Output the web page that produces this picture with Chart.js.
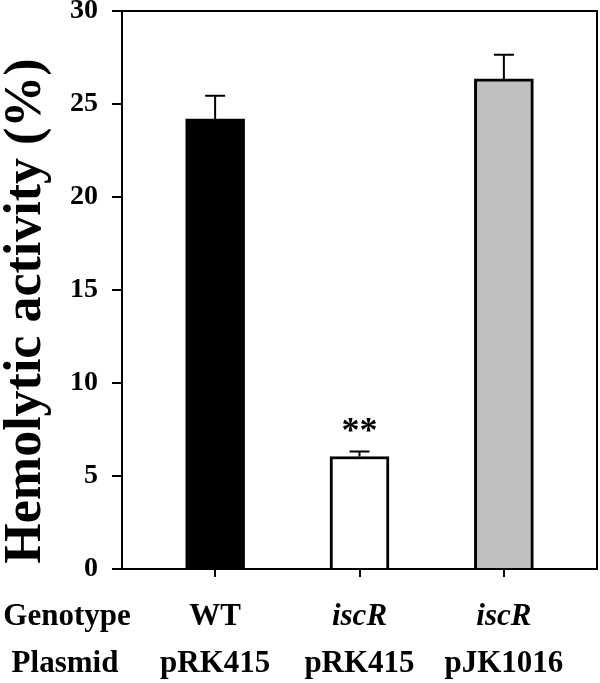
<!DOCTYPE html>
<html>
<head>
<meta charset="utf-8">
<script src="https://cdn.jsdelivr.net/npm/chart.js@4"></script>
<style>
    body { margin: 0; background: #fff; }
</style>
</head>
<body>
<canvas id="hemoChart" width="600" height="683"></canvas>
<script>
const groups = [1, 2, 3];
const genotypes = ['WT', 'iscR', 'iscR'];
const plasmids = ['pRK415', 'pRK415', 'pJK1016'];
const activity = [24.2, 6.05, 26.35];
const errors = [1.25, 0.27, 1.3];
const marks = ['', '**', ''];
const yTicks = [0, 5, 10, 15, 20, 25, 30];
const rowNames = ['Genotype', 'Plasmid'];

const serif = 'Liberation Serif, Times New Roman, serif';

// frame, error bars, ** and the two label rows under the axis
const extras = {
    id: 'extras',
    afterDatasetsDraw(chart) {
        const ctx = chart.ctx;
        const xs = chart.scales.x;
        const ys = chart.scales.y;
        const a = chart.chartArea;
        ctx.save();
        ctx.strokeStyle = '#000';
        ctx.lineWidth = 2;
        ctx.strokeRect(a.left, a.top, a.right - a.left, a.bottom - a.top);

        activity.forEach((v, i) => {
            const cx = xs.getPixelForValue(groups[i]);
            const y0 = ys.getPixelForValue(v);
            const y1 = ys.getPixelForValue(v + errors[i]);
            ctx.beginPath();
            ctx.moveTo(cx, y0);
            ctx.lineTo(cx, y1);
            ctx.moveTo(cx - 10, y1);
            ctx.lineTo(cx + 10, y1);
            ctx.stroke();
            if (marks[i]) {
                ctx.fillStyle = '#000';
                ctx.font = 'bold 36px ' + serif;
                ctx.textAlign = 'center';
                ctx.textBaseline = 'alphabetic';
                ctx.fillText(marks[i], cx, y1 - 9);
            }
        });
        ctx.restore();
    },
    afterDraw(chart) {
        const ctx = chart.ctx;
        const xs = chart.scales.x;
        ctx.save();
        ctx.fillStyle = '#000';
        ctx.textAlign = 'center';
        ctx.textBaseline = 'alphabetic';
        ctx.font = 'bold 31px ' + serif;
        ctx.fillText(rowNames[0], 67, 625);
        ctx.fillText(rowNames[1], 65, 672);
        groups.forEach((g, i) => {
            const cx = xs.getPixelForValue(g);
            const italic = genotypes[i] !== 'WT';
            ctx.font = (italic ? 'italic ' : '') + 'bold 31px ' + serif;
            ctx.fillText(genotypes[i], cx, 625);
            ctx.font = 'bold 31px ' + serif;
            ctx.fillText(plasmids[i], cx, 672);
        });

        // y axis title
        ctx.translate(40, 311);
        ctx.rotate(-Math.PI / 2);
        ctx.font = 'bold 52px ' + serif;
        ctx.fillText('Hemolytic activity (%)', 0, 0);
        ctx.restore();
    }
};

document.addEventListener('DOMContentLoaded', () => {
    const ctx = document.getElementById('hemoChart').getContext('2d');
    new Chart(ctx, {
        type: 'bar',
        data: {
            datasets: [{
                data: groups.map((g, i) => ({ x: g, y: activity[i] })),
                backgroundColor: ['#000000', '#ffffff', '#c0c0c0'],
                borderColor: '#000',
                borderWidth: 3,
                barThickness: 59
            }]
        },
        options: {
            responsive: false,
            animation: false,
            layout: { autoPadding: false, padding: { left: 0, top: 11, right: 3, bottom: 0 } },
            plugins: { legend: { display: false }, tooltip: { enabled: false } },
            scales: {
                x: {
                    type: 'linear',
                    offset: false,
                    min: 0.355,
                    max: 3.645,
                    afterBuildTicks: s => { s.ticks = groups.map(v => ({ value: v })); },
                    afterFit: s => { s.height = 114; s.paddingLeft = 0; s.paddingRight = 0; },
                    ticks: { display: false },
                    grid: { offset: false, drawOnChartArea: false, tickLength: 8, color: '#000', lineWidth: 2 },
                    border: { color: '#000', width: 2 }
                },
                y: {
                    min: 0,
                    max: 30,
                    afterBuildTicks: s => { s.ticks = yTicks.map(v => ({ value: v })); },
                    afterFit: s => { s.width = 122; s.paddingTop = 0; s.paddingBottom = 0; },
                    ticks: {
                        color: '#000',
                        padding: 14,
                        font: { family: serif, size: 28, weight: 'bold' }
                    },
                    grid: { drawOnChartArea: false, tickLength: 10, color: '#000', lineWidth: 2 },
                    border: { color: '#000', width: 2 }
                }
            }
        },
        plugins: [extras]
    });
});
</script>
</body>
</html>
